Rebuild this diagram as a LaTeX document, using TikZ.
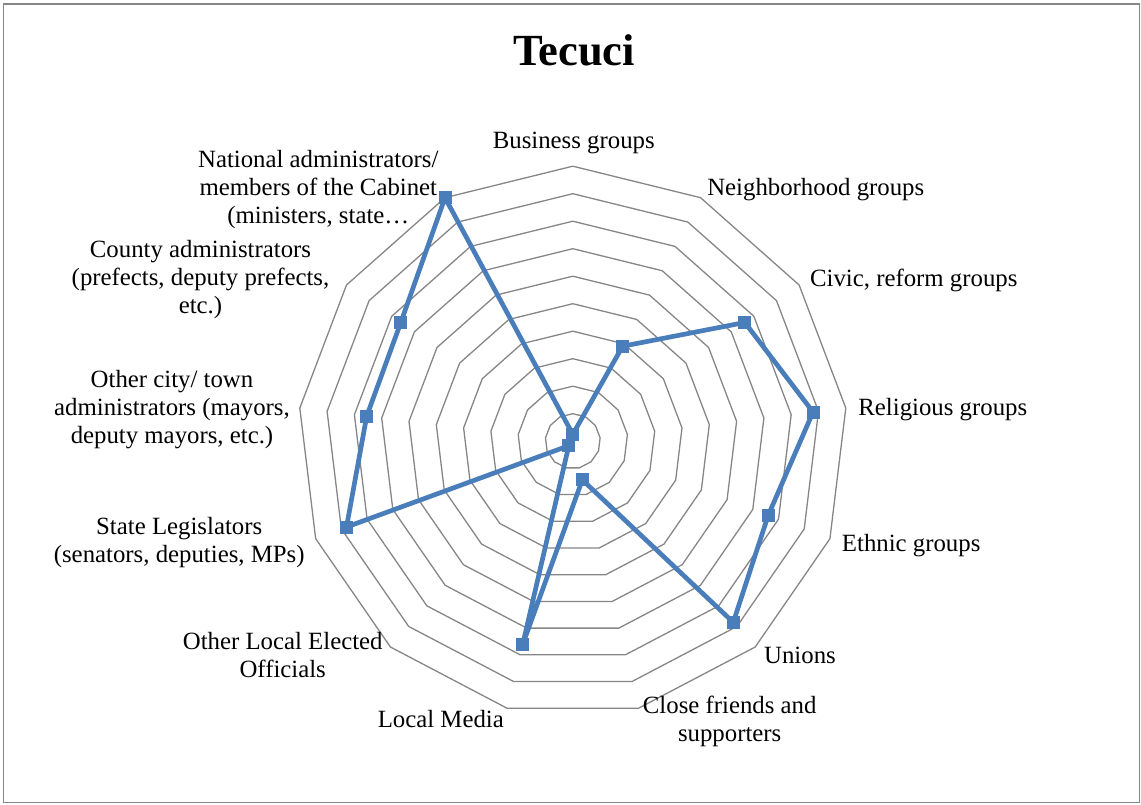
\documentclass[tikz,border=0pt]{standalone}
\usepackage{fontspec}
\setmainfont{Liberation Serif}
\definecolor{seriesblue}{HTML}{4A7EBB}
\definecolor{gridgray}{HTML}{868686}

\begin{document}
\begin{tikzpicture}[x=1pt,y=1pt,
    lbl/.style={font=\fontsize{24.8}{28}\selectfont, align=center, inner sep=0pt},
    ring/.style={draw=gridgray, line width=1.3pt},
    series/.style={draw=seriesblue, line width=4.7pt, line join=round},
    marker/.style={fill=seriesblue, minimum size=13pt, inner sep=0pt}]
  \useasboundingbox (0,0) rectangle (1141,804);

  % Chart frame
  \draw[gridgray, line width=1.5pt] (3.5,1.5) rectangle (1139.5,800);

  \node[font=\bfseries\fontsize{44.5}{50}\selectfont] (title) at (574,754) {Tecuci};

  \begin{scope}[shift={(572.8,362.8)}]
    % Draw the rings
    \foreach \r in {1,...,10}
      \draw[ring] (90:27.5*\r) \foreach \k in {1,...,12} { -- ({90-\k*360/13}:27.5*\r) } -- cycle;

    % Data points
    \foreach \v [count=\i from 0] in {0.25,3.9,7.6,8.8,7.6,8.8,1.45,7.6,0.22,8.8,7.55,7.6,10}
      \coordinate (p\i) at ({90-\i*360/13}:27.5*\v);

    \draw[series] (p0) -- (p1) -- (p2) -- (p3) -- (p4) -- (p5) -- (p6) -- (p7)
      -- (p8) -- (p9) -- (p10) -- (p11) -- (p12) -- cycle;
    \foreach \i in {0,...,12}
      \node[marker] (m\i) at (p\i) {};
  \end{scope}

  % Axis labels
  \node[lbl] (business) at (573.8,660.7) {Business groups};
  \node[lbl] (neighborhood) at (815.8,614) {Neighborhood groups};
  \node[lbl] (civic) at (913.8,524) {Civic, reform groups};
  \node[lbl] (religious) at (942.8,394.5) {Religious groups};
  \node[lbl] (ethnic) at (911.2,258.7) {Ethnic groups};
  \node[lbl] (unions) at (800,149) {Unions};
  \node[lbl] (friends) at (729.7,82.5) {Close friends and\\supporters};
  \node[lbl] (media) at (440.8,85.3) {Local Media};
  \node[lbl] (localelected) at (282.7,149) {Other Local Elected\\Officials};
  \node[lbl] (legislators) at (179.2,261.5) {State Legislators\\(senators, deputies, MPs)};
  \node[lbl] (cityadmin) at (172,394.3) {Other city/ town\\administrators (mayors,\\deputy mayors, etc.)};
  \node[lbl] (countyadmin) at (200.5,524.8) {County administrators\\(prefects, deputy prefects,\\etc.)};
  \node[lbl] (nationaladmin) at (318.3,614.7) {National administrators/\\members of the Cabinet\\(ministers, state…};
\end{tikzpicture}
\end{document}
